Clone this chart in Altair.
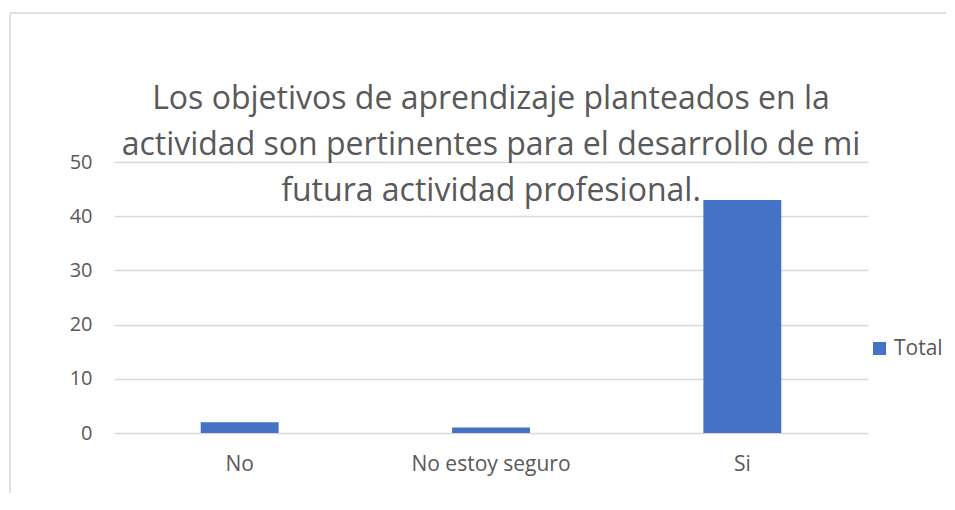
import altair as alt
import pandas as pd

categories = ["No", "No estoy seguro", "Si"]
values = [2, 1, 43]
series = ["Total", "Total", "Total"]

title_lines = [
    "Los objetivos de aprendizaje planteados en la",
    "actividad son pertinentes para el desarrollo de mi",
    "futura actividad profesional.",
]

df = pd.DataFrame({"categoria": categories, "valor": values, "serie": series})

FONT = "Open Sans"
GRAY = "#595959"

bars = alt.Chart(df).mark_bar(color="#4472C4").encode(
    x=alt.X(
        "categoria:N",
        sort=categories,
        title=None,
        scale=alt.Scale(paddingInner=0.69, paddingOuter=0.345),
        axis=alt.Axis(labelAngle=0, ticks=False, domain=False, grid=False,
                      labelPadding=20, labelFontSize=21, labelColor=GRAY, labelFont=FONT),
    ),
    y=alt.Y(
        "valor:Q",
        title=None,
        scale=alt.Scale(domain=[0, 50]),
        axis=alt.Axis(values=[0, 10, 20, 30, 40, 50], ticks=False, domain=False,
                      gridColor="#d9d9d9", gridWidth=1.5, labelPadding=22,
                      labelFontSize=20, labelColor=GRAY, labelFont=FONT),
    ),
    color=alt.Color(
        "serie:N",
        scale=alt.Scale(range=["#4472C4"]),
        legend=alt.Legend(title=None, orient="none", legendX=755, legendY=176,
                          symbolType="square", symbolSize=169, symbolStrokeWidth=0,
                          labelFontSize=21, labelColor=GRAY, labelFont=FONT,
                          labelOffset=4),
    ),
)

frame_df = pd.DataFrame({"a": [0]})
top_edge = alt.Chart(frame_df).mark_rule(
    color="#d9d9d9", strokeWidth=1.5, clip=False
).encode(x=alt.value(-104), x2=alt.value(832), y=alt.value(-149))
left_edge = alt.Chart(frame_df).mark_rule(
    color="#d9d9d9", strokeWidth=1.5, clip=False
).encode(x=alt.value(-104), y=alt.value(-149), y2=alt.value(331))

chart = alt.layer(top_edge, left_edge, bars).properties(
    width=754,
    height=271,
    autosize=alt.AutoSizeParams(type="none"),
    padding={"left": 106, "top": 154, "right": 78, "bottom": 60},
    title=alt.TitleParams(
        text=title_lines,
        fontSize=32,
        font=FONT,
        fontWeight="normal",
        color=GRAY,
        lineHeight=46,
        anchor="middle",
        offset=-196,
    ),
).configure_view(stroke=None)

chart.save("out.html", embed_options={"renderer": "svg", "actions": False})
